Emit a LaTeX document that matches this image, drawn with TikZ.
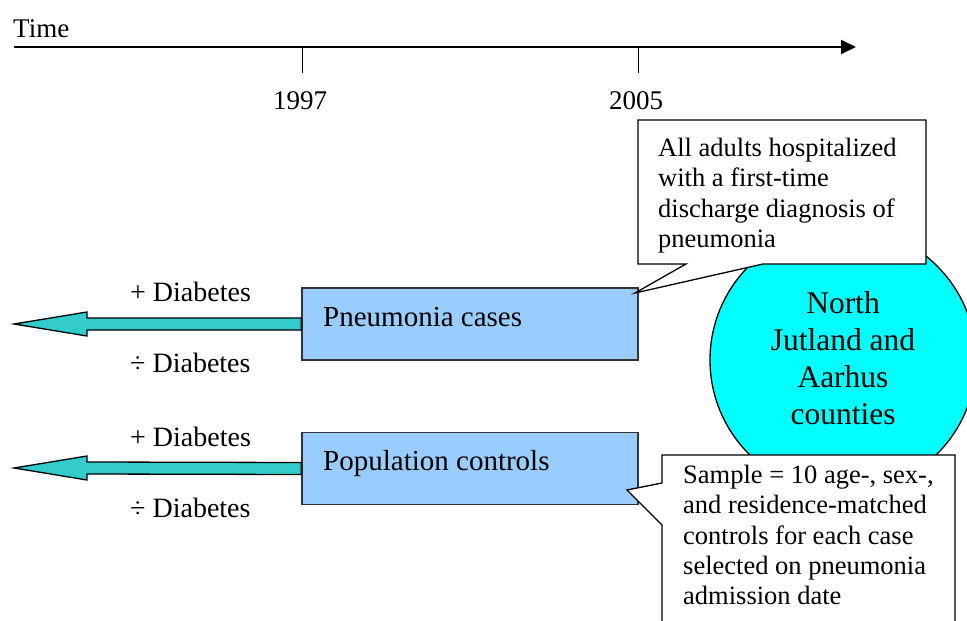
\documentclass[tikz,border=0pt]{standalone}
\usepackage{fontspec}
\setmainfont{Liberation Serif}
\usetikzlibrary{arrows.meta,calc}
\begin{document}
\begin{tikzpicture}[x=1pt,y=-1pt,
  lw/.style={line width=1.3pt},
  bluebox/.style={draw=black!80, lw, fill=boxblue, minimum width=336pt, minimum height=72pt, inner sep=0pt},
  boxtxt/.style={anchor=base west, inner sep=0pt, font=\fontsize{29}{33}\selectfont},
  lbl/.style={anchor=base west, inner sep=0pt, font=\fontsize{28}{31}\selectfont},
  yr/.style={anchor=base, inner sep=0pt, font=\fontsize{27}{31}\selectfont},
  calltxt/.style={anchor=north west, inner sep=0pt, align=left, font=\fontsize{26.5}{30.3}\selectfont},
  bigarrow/.style={draw=black, lw, fill=arrowteal, line join=miter},
]
\definecolor{boxblue}{RGB}{153,204,255}
\definecolor{arrowteal}{RGB}{51,204,204}
\definecolor{circcyan}{RGB}{0,255,255}
\useasboundingbox (0,0) rectangle (967,621);
\clip (0,0) rectangle (967,621);

% timeline
\coordinate (t0) at (14,47);
\coordinate (t1) at (856,47);
\draw[line width=2pt, -{Triangle[length=15pt,width=14pt]}] (t0) -- (t1);
\coordinate (k1) at (302,47);
\coordinate (k2) at (638,47);
\draw[line width=1pt] (k1) -- ++(0,26);
\draw[line width=1pt] (k2) -- ++(0,26);
\node[anchor=base west, inner sep=0pt, font=\fontsize{27}{30}\selectfont] (time) at (13,37) {Time};
\node[yr] (y1997) at (300,109) {1997};
\node[yr] (y2005) at (636,109) {2005};

% circle
\node[circle, draw=black, lw, fill=circcyan, minimum size=266pt, inner sep=0pt] (circ) at (843,360) {};
\node[anchor=north, inner sep=0pt, align=center, font=\fontsize{31.5}{37}\selectfont] (circtxt) at (843,291) {North\\Jutland and\\Aarhus\\counties};

% boxes
\node[bluebox] (pc) at (470,324) {};
\node[boxtxt] (pctxt) at (323,326) {Pneumonia cases};
\node[bluebox] (pop) at (470,468.5) {};
\node[boxtxt] (poptxt) at (323,470) {Population controls};

% big arrows
\coordinate (pcend) at (14,324);
\draw[bigarrow] ($(pc.west)+(0,-6)$) -- ($(pcend)+(73,-6)$) -- ($(pcend)+(73,-12)$) -- (pcend) -- ($(pcend)+(73,12)$) -- ($(pcend)+(73,6)$) -- ($(pc.west)+(0,6)$) -- cycle;
\coordinate (popend) at (14,468);
\draw[bigarrow] ($(pop.west)+(0,-6)$) -- ($(popend)+(73,-6)$) -- ($(popend)+(73,-12)$) -- (popend) -- ($(popend)+(73,12)$) -- ($(popend)+(73,6)$) -- ($(pop.west)+(0,6)$) -- cycle;

% diabetes labels
\node[lbl] (d1) at (130,301) {+ Diabetes};
\node[lbl] (d2) at (130,372) {÷ Diabetes};
\node[lbl] (d3) at (130,446) {+ Diabetes};
\node[lbl] (d4) at (130,517) {÷ Diabetes};

% top callout
\draw[lw, fill=white, line join=miter] (638,120) -- (926,120) -- (926,264) -- (763,264) -- (635,293) -- (686,264) -- (638,264) -- cycle;
\node[calltxt] (c1) at (658,138) {All adults hospitalized\\with a first-time\\discharge diagnosis of\\pneumonia};

% bottom callout
\draw[lw, fill=white, line join=miter] (662,455) -- (955,455) -- (955,640) -- (662,640) -- (662,525) -- (627,490) -- (662,483) -- cycle;
\node[calltxt] (c2) at (683,465) {Sample = 10 age-, sex-,\\and residence-matched\\controls for each case\\selected on pneumonia\\admission date};
\end{tikzpicture}
\end{document}
